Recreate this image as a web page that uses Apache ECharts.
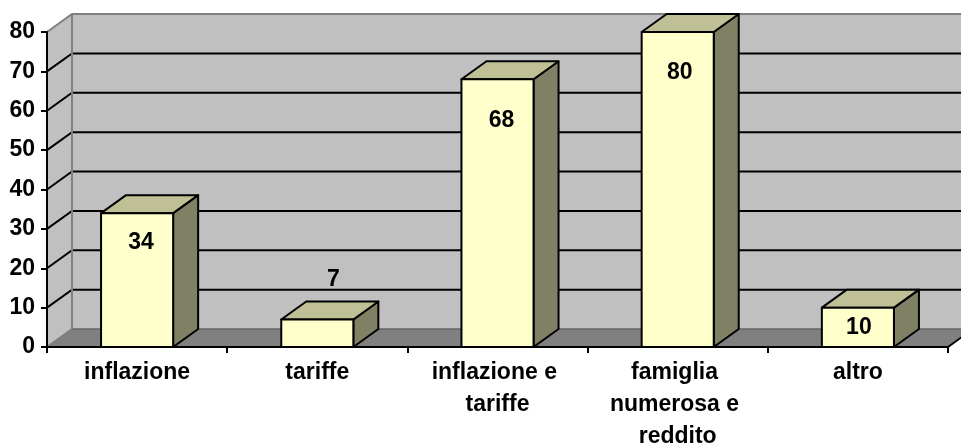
<!DOCTYPE html>
<html>
<head>
<meta charset="utf-8">
<script src="https://cdn.jsdelivr.net/npm/echarts@6/dist/echarts.min.js"></script>
<style>
  html, body { margin: 0; padding: 0; background: #ffffff; }
  #chart { width: 961px; height: 447px; }
</style>
</head>
<body>
<div id="chart"></div>
<script>
// Survey answers: reasons given
const categories = ['inflazione', 'tariffe', 'inflazione e tariffe', 'famiglia numerosa e reddito', 'altro'];
const values = [34, 7, 68, 80, 10];
const yTicks = [0, 10, 20, 30, 40, 50, 60, 70, 80];

// Pseudo-3D look
const DEPTH_X = 25;
const DEPTH_Y = -18;
const FONT_FAMILY = '"Liberation Sans", Arial, sans-serif';
const FONT_SIZE = 23;
const FONT = 'bold ' + FONT_SIZE + 'px ' + FONT_FAMILY;
const FRONT = '#FFFFCC';
const TOP = '#C0C096';
const SIDE = '#808064';
const WALL = '#C0C0C0';
const FLOOR = '#808080';
// where each value label sits, relative to the bar's front top centre
const labelNudge = [[4, 30], [16, -40], [4, 41], [2, 41], [1, 20]];

const chart = echarts.init(document.getElementById('chart'));

function renderWalls(params, api) {
  const band = api.size([1, 0])[0];
  const last = categories.length - 1;
  const xL = api.coord([0, 0])[0] - band / 2;
  const xR = api.coord([last, 0])[0] + band / 2;
  const yMin = api.coord([0, yTicks[0]])[1];
  const yMax = api.coord([0, yTicks[yTicks.length - 1]])[1];
  const bx = xL + DEPTH_X, bxR = xR + DEPTH_X;
  const children = [];
  // side wall
  children.push({ type: 'polygon', shape: { points: [[xL, yMin], [xL, yMax], [bx, yMax + DEPTH_Y], [bx, yMin + DEPTH_Y]] },
    style: { fill: WALL } });
  // back wall
  children.push({ type: 'rect', shape: { x: bx, y: yMax + DEPTH_Y, width: bxR - bx, height: yMin - yMax },
    style: { fill: WALL } });
  // floor
  children.push({ type: 'polygon', shape: { points: [[xL, yMin], [xR, yMin], [bxR, yMin + DEPTH_Y], [bx, yMin + DEPTH_Y]] },
    style: { fill: FLOOR } });
  children.push({ type: 'line', shape: { x1: bx, y1: yMin + DEPTH_Y, x2: bxR, y2: yMin + DEPTH_Y },
    style: { stroke: '#666666', lineWidth: 1.5 } });
  // gridlines running across side and back walls
  yTicks.forEach(function (v, i) {
    if (i === 0 || i === yTicks.length - 1) return;
    const y = api.coord([0, v])[1];
    children.push({ type: 'polyline', shape: { points: [[xL, y], [bx, y + DEPTH_Y], [bxR, y + DEPTH_Y]] },
      style: { stroke: '#000000', lineWidth: 2, fill: null } });
  });
  // wall edges
  children.push({ type: 'polyline', shape: { points: [[xL, yMax], [bx, yMax + DEPTH_Y], [bxR, yMax + DEPTH_Y]] },
    style: { stroke: '#808080', lineWidth: 2, fill: null } });
  children.push({ type: 'polyline', shape: { points: [[xL, yMin], [bx, yMin + DEPTH_Y], [bx, yMax + DEPTH_Y]] },
    style: { stroke: '#808080', lineWidth: 2, fill: null } });
  // right end of the floor's front edge
  children.push({ type: 'line', shape: { x1: xR, y1: yMin, x2: bxR, y2: yMin + DEPTH_Y },
    style: { stroke: '#000000', lineWidth: 2 } });
  return { type: 'group', children: children };
}

function renderBar(params, api) {
  const i = api.value(0);
  const v = api.value(1);
  const top = api.coord([i, v]);
  const base = api.coord([i, 0]);
  const w = api.size([1, 0])[0] * 0.4;
  const l = top[0] - w / 2, r = top[0] + w / 2;
  const yt = top[1], y0 = base[1];
  const edge = { stroke: '#000000', lineWidth: 2, lineJoin: 'round' };
  const nudge = labelNudge[params.dataIndex];
  return {
    type: 'group',
    children: [
      { type: 'polygon', shape: { points: [[r, yt], [r + DEPTH_X, yt + DEPTH_Y], [r + DEPTH_X, y0 + DEPTH_Y], [r, y0]] },
        style: Object.assign({ fill: SIDE }, edge) },
      { type: 'polygon', shape: { points: [[l, yt], [r, yt], [r + DEPTH_X, yt + DEPTH_Y], [l + DEPTH_X, yt + DEPTH_Y]] },
        style: Object.assign({ fill: TOP }, edge) },
      { type: 'rect', shape: { x: l, y: yt, width: w, height: y0 - yt },
        style: Object.assign({ fill: FRONT }, edge) },
      { type: 'text', z2: 10,
        style: { text: String(v), x: top[0] + nudge[0], y: yt + nudge[1], font: FONT, fill: '#000000',
          align: 'center', verticalAlign: 'middle' } }
    ]
  };
}

chart.setOption({
  animation: false,
  backgroundColor: '#ffffff',
  grid: { left: 47, right: 13, top: 32, bottom: 100, containLabel: false, outerBoundsMode: 'none' },
  xAxis: {
    type: 'category',
    data: categories,
    boundaryGap: true,
    z: 5,
    axisLine: { show: true, lineStyle: { color: '#000000', width: 2 } },
    axisTick: { show: true, length: 6, alignWithLabel: false, lineStyle: { color: '#000000', width: 2 } },
    axisLabel: {
      interval: 0, margin: 10, color: '#000000', fontFamily: FONT_FAMILY, fontWeight: 'bold', fontSize: FONT_SIZE,
      lineHeight: 32, width: 150, overflow: 'break', align: 'center'
    },
    splitLine: { show: false }
  },
  yAxis: {
    type: 'value',
    min: 0, max: 80, interval: 10,
    z: 5,
    axisLine: { show: true, lineStyle: { color: '#000000', width: 2 } },
    axisTick: { show: true, length: 6, lineStyle: { color: '#000000', width: 2 } },
    axisLabel: { margin: 12, color: '#000000', fontFamily: FONT_FAMILY, fontWeight: 'bold', fontSize: FONT_SIZE },
    splitLine: { show: false }
  },
  series: [
    { type: 'custom', name: 'walls', z: 1, clip: false, renderItem: renderWalls, data: [[0, 0]], silent: true },
    { type: 'custom', name: 'bars', z: 2, clip: false, renderItem: renderBar,
      encode: { x: 0, y: 1 },
      data: values.map(function (v, i) { return [i, v]; }) }
  ]
});
</script>
</body>
</html>
